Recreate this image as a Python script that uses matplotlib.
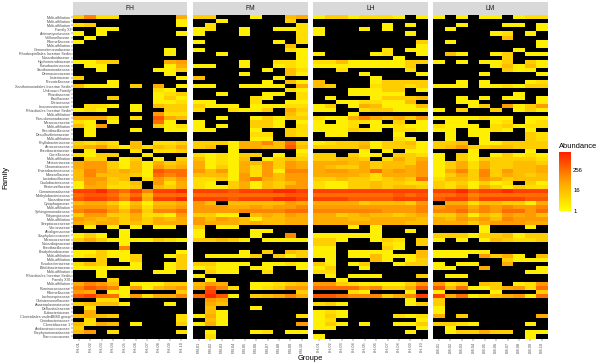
# Heatmap of family abundance per sample, faceted by group
import numpy as np
import matplotlib
matplotlib.use('Agg')
import matplotlib.pyplot as plt
from matplotlib.colors import LinearSegmentedColormap, LogNorm

plt.rcParams['font.family'] = ['Liberation Sans', 'DejaVu Sans']

families = [
    'Multi-affiliation', 'Multi-affiliation', 'Multi-affiliation', 'Family XI', 'Actinomycetaceae',
    'Veillonellaceae', 'Rikenellaceae', 'Multi-affiliation', 'Gemmatimonadaceae',
    'Rhodospirillales Incertae Sedis', 'Nocardioidaceae', 'Hyphomicrobiaceae', 'Flavobacteriaceae',
    'Xanthomonadaceae', 'Dermacoccaceae', 'Listeriaceae', 'Prevotellaceae',
    'Xanthomonadales Incertae Sedis', 'Unknown Family', 'Rhizobiaceae', 'Bacillaceae',
    'Dietziaceae', 'Leuconostocaceae', 'Rhizobiales Incertae Sedis', 'Multi-affiliation',
    'Pseudomonadaceae', 'Micrococcaceae', 'Multi-affiliation', 'Paenibacillaceae',
    'Desulfovibrionaceae', 'Multi-affiliation', 'Phyllobacteriaceae', 'Aerococcaceae',
    'Brevibacteriaceae', 'Coxiellaceae', 'Multi-affiliation', 'Neisseriaceae', 'Chromatiaceae',
    'Enterobacteriaceae', 'Moraxellaceae', 'Lactobacillaceae', 'Caulobacteraceae', 'Pasteurellaceae',
    'Comamonadaceae', 'Methylobacteriaceae', 'Nocardiaceae', 'Cytophagaceae', 'Multi-affiliation',
    'Sphingomonadaceae', 'Polyangiaceae', 'Multi-affiliation', 'Streptococcaceae', 'Vibrionaceae',
    'Alcaligenaceae', 'Staphylococcaceae', 'Micrococcaceae', 'Nocardiopsaceae', 'Brevibacillaceae',
    'Bradyrhizobiaceae', 'Multi-affiliation', 'Multi-affiliation', 'Fusobacteriaceae',
    'Bifidobacteriaceae', 'Multi-affiliation', 'Rhizobiales Incertae Sedis', 'Family XIII',
    'Multi-affiliation', 'Ruminococcaceae', 'Rikenellaceae', 'Lachnospiraceae', 'Christensenellaceae',
    'Anaeroplasmataceae', 'Defluviitaleaceae', 'Eubacteriaceae', 'Clostridiales vadinBB60 group',
    'Coriobacteriaceae', 'Clostridiaceae 1', 'Acidaminococcaceae', 'Porphyromonadaceae',
    'Planococcaceae',
]

# one string per family, one character per sample: log2 of abundance in hex, '.' = absent
FH = [
    '3722.....5', '.........1', '23.......1', '..11......', '1.1......1',
    '.1........', '1.........', '..........', '........1.', '........1.',
    '..........', '1133....56', '.11.....15', '..1....113', '........1.',
    '3........1', '...1......', '4111.3.5.1', '.......21.', '.......123',
    '...3...131', '.......112', '.221.1.433', '121..1..33', '.......622',
    '5552.2.954', '21.1...81.', '416....312', '.1...1..11', '.1........',
    '..........', '3232.4.223', '4563142435', '.1...2.223', '2133..1...',
    '.33.13.1.3', '5663141534', '5663141645', '4764541988', '4744431878',
    '46634.2646', '165324.625', '155223.435', 'aab98a7aab', '8998684888',
    '9aa97a5aab', '4553141445', '6665252556', '7886473778', '3663352216',
    '6545353545', '5455343555', '.1.1.1.11.', '....1.....', '131.1.....',
    '3531111321', '....1.....', '....7.....', '11311....1', '123113..13',
    '..3.13...3', '243..1..13', '111111..13', '..1....11.', '..1.......',
    '...3......', '5764.11133', '7987161456', '65.11....3', '9a88162557',
    '..22......', '34441...1.', '.2........', '.5........', '4543.....2',
    '.2.......2', '4254.1...3', '3.........', '46.2.....2', '..........',
]

FM = [
    '33...1..45', '..1.....3.', '.2.......2', '12..1..112', '1...1....2',
    '.........2', '1......1.2', '........4.', '1.......21', '..1......1',
    '.........1', '....1..221', '11..1..121', '......1.42', '....1...41',
    '4......1..', '......1.41', '11..1111.5', '........21', '..1...11.2',
    '.....21..2', '11...2..11', '3111.11122', '2..2113.53', '........42',
    '..1..13133', '1....331.1', '1.1..331.2', '11...1..32', '.....22.32',
    '.....11...', '3331557483', '34.1554494', '...1.....1', '212133.1.2',
    '41214.1343', '5121546365', '5131526365', '6461526177', '4441626466',
    '2231685466', '21.3514346', '2113514366', 'aaa9aaabba', '8888888899',
    'aaa9aaabba', '64.4444465', '6665565667', '6666777788', '3311.45465',
    '6465414455', '6555454455', '3.11......', '1....11...', '1....1..7.',
    '33431.1111', '..........', '..........', '....1.3.43', '.11113.313',
    '..........', '33111.1121', '1211.11..1', '.311..2...', '1.........',
    '.1........', '465..11234', '5972.12366', '.a.......3', '8b91.34575',
    '.65.......', '.54.......', '.4...1....', '.41.......', '151......2',
    '.41.......', '151......6', '..........', '.1...12.11', '.2........',
]

LH = [
    '13312221.1', '..........', '......1.1.', '1...1.1...', '1.......1.',
    '..........', '.........3', '.........1', '......2.11', '1....12..1',
    '.......1..', '2241111133', '111111113.', '..2.....2.', '....1....1',
    '.....1....', '4....13333', '43...23323', '...11133.1', '...11111..',
    '.1...13334', '..1122114.', '13.1541114', '11..233111', '...1......',
    '2115754536', '1.1221.3.1', '1112.11211', '111321.221', '.11....1..',
    '.......21.', '1233413341', '3333513331', '....1.1.11', '33.311.332',
    '33443.2535', '5554534436', '5433534456', '5665585656', '5555425556',
    '3343323438', '2113343322', '2113343443', 'aaaaaaaaaa', '8888888989',
    'aaa9999aaa', '5555344436', '6666666667', '7777776667', '5534544345',
    '5554455554', '5555555544', '...1.1....', '.....1..1.', '111111....',
    '331..132.3', '33....21.3', '11....31..', '11.1111..4', '11.1141114',
    '.1...41.13', '31.13..133', '13..1.....', '22........', '.1.111...3',
    '..1.......', '6632111136', '8888673359', '...21...1.', '998777357a',
    '........1.', '231.....13', '..........', '121.......', '131....212',
    '12.......1', '131.1..113', '11.......1', '........1.', '1.........',
]

LM = [
    '1.1.11.122', '..........', '..1...11.1', '.1.......1', '.....12.1.',
    '......4...', '.1.......1', '.........1', '.......1..', '.41..13.11',
    '......3...', '1.1.113.31', '.....14141', '......311.', '....1....1',
    '..........', '..1.1...12', '111.112133', '..........', '.......1..',
    '..1.1.11.1', '..11.....1', '...13.6136', '1.3..3.131', '..........',
    '1111211.11', '.11..12.12', '2111.23122', '11.1121.1.', '.1.11...32',
    '.1..1...32', '334.113333', '3463344333', '...1....1.', '1.31.13121',
    '1.31333332', '1352533443', '1352533445', '1573736445', '1353735434',
    '2443653444', '3231312.31', '3241531322', 'aab9aabaaa', '8897888888',
    '9aa8aaaa99', '.552443315', '6775767667', '7786768868', '3351436564',
    '5465647666', '5553566655', '....1...1.', '....1.....', '3331334133',
    '1.1.143223', '..........', '..........', '11111.....', '111.6351.4',
    '......3111', '1.11..5...', '11..5....1', '........11', '.11.......',
    '..........', '623.43.126', '9481135628', '1....1...3', 'a581245618',
    '3.........', '3.........', '1.........', '1.........', '5.3......5',
    '..........', '3321....1.', '.1........', '.133533.11', '........1.',
]

groups = ['FH', 'FM', 'LH', 'LM']
panels = [FH, FM, LH, LM]
samples = ['%02d' % i for i in range(1, 11)]

W, H = 600, 364


def to_matrix(rows):
    out = np.full((len(rows), 10), np.nan)
    for i, row in enumerate(rows):
        for j, c in enumerate(row):
            if c != '.':
                out[i, j] = 2.0 ** int(c, 16)
    return np.ma.masked_invalid(out)


def px_axes(fig, x0, y0, x1, y1):
    # pixel box with y measured from the top of the image
    return fig.add_axes([x0 / W, 1 - y1 / H, (x1 - x0) / W, (y1 - y0) / H])


cmap = LinearSegmentedColormap.from_list('abund', ['#FFFF00', '#FFA000', '#FF1E00'])
cmap.set_bad('black')
norm = LogNorm(vmin=1, vmax=2900)

fig = plt.figure(figsize=(6, 3.64), dpi=100)
lefts = [73, 193.3, 313.3, 433.3]
top, bottom = 15.3, 338.5

for k, (grp, rows, x0) in enumerate(zip(groups, panels, lefts)):
    ax = px_axes(fig, x0, top, x0 + 114.2, bottom)
    mesh = ax.pcolormesh(to_matrix(rows), cmap=cmap, norm=norm)
    ax.set_xlim(0, 10)
    ax.set_ylim(len(rows), 0)
    ax.set_xticks(np.arange(10) + 0.5)
    ax.set_xticklabels([grp + '-' + s for s in samples], rotation=90, fontsize=2.8, color='#4D4D4D')
    ax.tick_params(axis='x', length=1.2, width=0.3, pad=1, color='#333333')
    if k == 0:
        ax.set_yticks(np.arange(len(families)) + 0.5)
        ax.set_yticklabels(families, fontsize=2.7, color='#4D4D4D')
        ax.tick_params(axis='y', length=1.2, width=0.3, pad=0.6, color='#333333')
    else:
        ax.set_yticks([])
    for s in ax.spines.values():
        s.set_visible(False)

    strip = px_axes(fig, x0, 1.5, x0 + 114.2, top)
    strip.set_facecolor('#D9D9D9')
    strip.set_xticks([])
    strip.set_yticks([])
    for s in strip.spines.values():
        s.set_visible(False)
    strip.text(0.5, 0.5, grp, ha='center', va='center', fontsize=4.9, color='#1A1A1A',
               transform=strip.transAxes)

fig.text(6 / W, 1 - 177 / H, 'Family', rotation=90, ha='center', va='center', fontsize=5.7)
fig.text(310 / W, 1 - 358 / H, 'Groupe', ha='center', va='center', fontsize=5.4)
fig.text(559 / W, 1 - 146.5 / H, 'Abundance', ha='left', va='center', fontsize=5.4)

cax = px_axes(fig, 559.3, 151.7, 571, 211)
cb = fig.colorbar(mesh, cax=cax)
cb.outline.set_visible(False)
cb.set_ticks([1, 16, 256])
cb.set_ticklabels(['1', '16', '256'])
cb.ax.minorticks_off()
cb.ax.tick_params(length=0, pad=1.5, labelsize=4.3)

fig.savefig('out.png', dpi=100)
